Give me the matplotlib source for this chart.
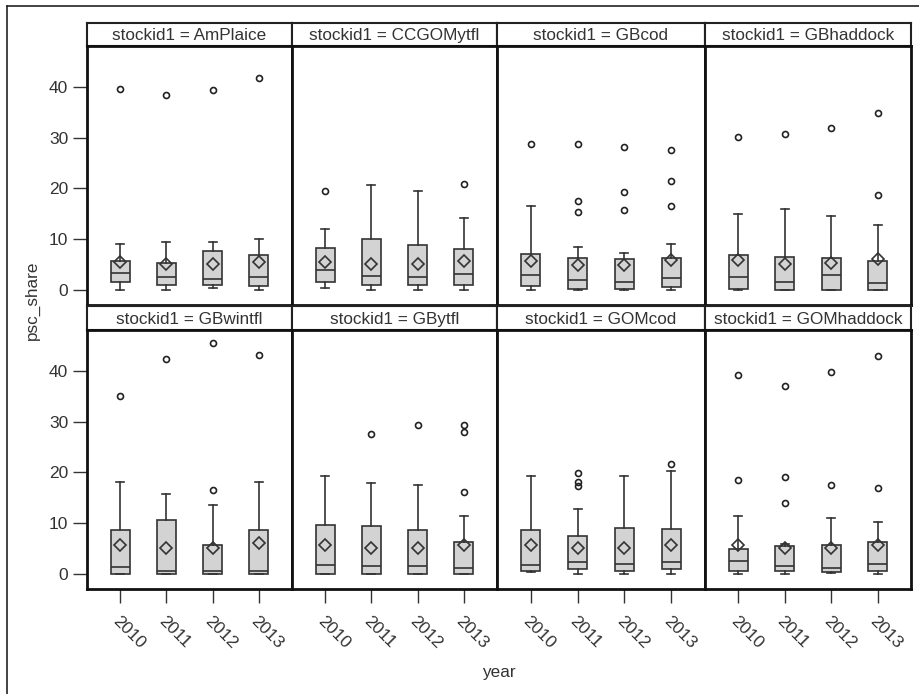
import numpy as np
import matplotlib
matplotlib.use('Agg')
import matplotlib.pyplot as plt
from matplotlib.lines import Line2D

plt.rcParams['font.family'] = ['Liberation Sans', 'DejaVu Sans']

# Datos: una fila por stock, una columna por anio
stocks = ['AmPlaice', 'CCGOMytfl', 'GBcod', 'GBhaddock',
          'GBwintfl', 'GBytfl', 'GOMcod', 'GOMhaddock']
years = ['2010', '2011', '2012', '2013']

whislo = [[0, 0, 0.3, 0], [0.3, 0, 0, 0], [0, 0, 0, 0], [0, 0, 0, 0],
          [0, 0, 0, 0], [0, 0, 0, 0], [0.4, 0, 0, 0], [0, 0, 0.1, 0]]
q1 = [[1.6, 1.0, 1.0, 0.8], [1.6, 1.0, 1.0, 1.0], [0.8, 0.2, 0.2, 0.5], [0.2, 0, 0, 0],
      [0, 0, 0, 0], [0, 0, 0, 0], [0.5, 0.9, 0.5, 0.9], [0.5, 0.5, 0.3, 0.5]]
med = [[3.3, 2.5, 2.2, 2.5], [4.0, 2.8, 2.5, 3.1], [2.9, 1.9, 1.5, 2.3], [2.5, 1.6, 2.9, 1.3],
       [1.25, 0.6, 0.6, 0.6], [1.8, 1.45, 1.45, 1.2], [1.7, 2.3, 2.0, 2.3], [2.6, 1.45, 1.2, 2.0]]
q3 = [[5.7, 5.3, 7.7, 6.8], [8.3, 10.0, 8.8, 8.0], [7.1, 6.3, 6.0, 6.3], [6.8, 6.5, 6.3, 5.7],
      [8.6, 10.6, 5.7, 8.6], [9.7, 9.4, 8.6, 6.3], [8.6, 7.4, 9.1, 8.9], [4.9, 5.5, 5.7, 6.3]]
whishi = [[9.1, 9.4, 9.4, 10.0], [12.0, 20.6, 19.5, 14.2], [16.6, 8.5, 7.3, 9.1], [14.9, 16.0, 14.6, 12.8],
          [18.2, 15.7, 13.6, 18.2], [19.3, 18.0, 17.6, 11.4], [19.3, 12.8, 19.3, 20.2], [11.4, 5.8, 11.1, 10.3]]
means = [[5.5, 5.0, 5.1, 5.5], [5.5, 5.1, 5.1, 5.7], [5.7, 4.9, 4.9, 5.8], [5.8, 5.1, 5.3, 6.0],
         [5.7, 5.1, 5.1, 6.0], [5.7, 5.1, 5.1, 5.7], [5.7, 5.1, 5.1, 5.7], [5.7, 5.1, 5.1, 5.7]]
fliers = [[[39.7], [38.5], [39.4], [41.7]],
          [[19.5], [], [], [20.9]],
          [[28.7], [28.7, 17.5, 15.3], [28.2, 19.3, 15.8], [27.6, 21.5, 16.6]],
          [[30.2], [30.7], [31.9], [34.8, 18.7]],
          [[35.0], [42.4], [45.6, 16.5], [43.2]],
          [[], [27.6], [29.3], [29.3, 28.0, 16.2]],
          [[], [19.9, 18.2, 17.4], [], [21.6]],
          [[39.3, 18.5], [37.0, 19.1, 13.9], [39.9, 17.6], [43.0, 17.0]]]

W, H = 919, 694
fig = plt.figure(figsize=(W / 100, H / 100), dpi=100)

def box(l, t, r, b):
    # pixeles -> fraccion de figura
    return [l / W, 1 - b / H, (r - l) / W, (b - t) / H]

col_l = [87, 292, 497, 705]
col_r = [292, 497, 705, 911]
head_t = [23, 306]
head_b = [46, 330]
plot_b = [305, 589]

edge = '#333333'
txt = '#333333'

for k, name in enumerate(stocks):
    row, col = divmod(k, 4)

    # cabecera del panel
    hx = fig.add_axes(box(col_l[col], head_t[row], col_r[col], head_b[row]))
    hx.set_xticks([])
    hx.set_yticks([])
    for s in hx.spines.values():
        s.set_linewidth(1.5)
        s.set_color('#222222')
    hx.text(0.5, 0.45, 'stockid1 = ' + name, ha='center', va='center',
            fontsize=12.3, color=txt, transform=hx.transAxes)

    ax = fig.add_axes(box(col_l[col], head_b[row], col_r[col], plot_b[row]))
    stats = []
    for j in range(4):
        stats.append(dict(whislo=whislo[k][j], q1=q1[k][j], med=med[k][j],
                          q3=q3[k][j], whishi=whishi[k][j], mean=means[k][j],
                          fliers=fliers[k][j]))
    ax.bxp(stats, positions=range(4), widths=0.41, capwidths=0.17,
           patch_artist=True, showmeans=True,
           boxprops=dict(facecolor='#d3d3d3', edgecolor=edge, linewidth=1.2),
           medianprops=dict(color=edge, linewidth=1.2),
           whiskerprops=dict(color=edge, linewidth=1.2),
           capprops=dict(color=edge, linewidth=1.2),
           meanprops=dict(marker='D', markerfacecolor='none', markeredgecolor=edge,
                          markersize=6.3, markeredgewidth=1.2),
           flierprops=dict(marker='o', markerfacecolor='none', markeredgecolor='#222222',
                           markersize=4.3, markeredgewidth=1.2))
    ax.set_xlim(-0.72, 3.72)
    ax.set_ylim(-3, 48.1)
    for s in ax.spines.values():
        s.set_linewidth(2)
        s.set_color('#111111')
    ax.tick_params(length=10, width=1, color=edge, labelcolor=txt, labelsize=12.5)
    ax.set_yticks([0, 10, 20, 30, 40])
    if col != 0:
        ax.tick_params(axis='y', left=False, labelleft=False)
    if row == 0:
        ax.tick_params(axis='x', bottom=False, labelbottom=False)
    else:
        ax.set_xticks(range(4))
        ax.set_xticklabels(years, rotation=-45, ha='left', va='top',
                           rotation_mode='anchor')
        ax.tick_params(axis='x', pad=8)

fig.text(32 / W, 1 - 300 / H, 'psc_share', rotation=90, ha='center', va='center',
         fontsize=12.3, color=txt)
fig.text(499 / W, 1 - 672 / H, 'year', ha='center', va='center',
         fontsize=12.3, color=txt)

# marco exterior
fig.add_artist(Line2D([7 / W, 7 / W], [0, 1 - 6 / H], color='#222222', lw=1.2))
fig.add_artist(Line2D([7 / W, 1], [1 - 6 / H, 1 - 6 / H], color='#222222', lw=1.2))

fig.savefig('out.png', dpi=100)
